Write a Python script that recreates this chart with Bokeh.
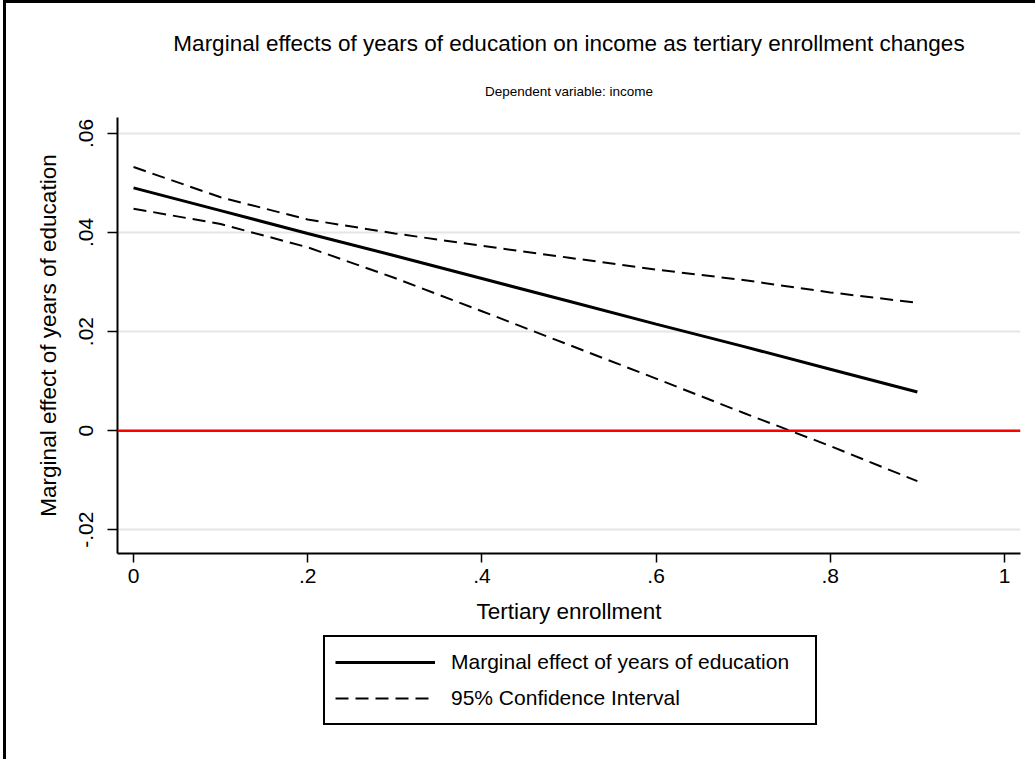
from bokeh.plotting import figure
from bokeh.models import (Span, Legend, LegendItem, FixedTicker, Title)
from bokeh.layouts import column
from bokeh.embed import file_html
from bokeh.resources import INLINE

# ---- data ----
enrollment = [0.0, 0.1, 0.2, 0.3, 0.4, 0.5, 0.6, 0.7, 0.8, 0.9]
marginal_effect = [0.0490, 0.0444, 0.0398, 0.0353, 0.0307, 0.0261, 0.0215, 0.0170, 0.0124, 0.0078]
ci_upper = [0.0532, 0.0471, 0.0426, 0.0398, 0.0373, 0.0349, 0.0325, 0.0304, 0.0279, 0.0258]
ci_lower = [0.0448, 0.0417, 0.0370, 0.0308, 0.0241, 0.0173, 0.0105, 0.0036, -0.0031, -0.0102]

x_ticks = [0, 0.2, 0.4, 0.6, 0.8, 1.0]
x_tick_labels = ["0", ".2", ".4", ".6", ".8", "1"]
y_ticks = [-0.02, 0.0, 0.02, 0.04, 0.06]
y_tick_labels = ["-.02", "0", ".02", ".04", ".06"]

title_text = "Marginal effects of years of education on income as tertiary enrollment changes"
subtitle_text = "Dependent variable: income"
x_label = "Tertiary enrollment"
y_label = "Marginal effect of years of education"
legend_labels = ["Marginal effect of years of education", "95% Confidence Interval"]

FONT = "Liberation Sans"
DASH = "13 7"

p = figure(frame_width=903, frame_height=436, output_backend="svg", toolbar_location=None,
           x_range=(-0.0184, 1.0184), y_range=(-0.0248, 0.0632),
           min_border_left=111, min_border_right=15, min_border_top=114,
           min_border_bottom=82)

p.background_fill_color = "white"
p.border_fill_color = "white"
p.outline_line_color = None

# titles
sub = Title(text=subtitle_text, align="center", text_font=FONT, text_font_size="13.5px",
            text_font_style="normal", text_color="black", standoff=37)
main = Title(text=title_text, align="center", text_font=FONT, text_font_size="22.5px",
             text_font_style="normal", text_color="black", standoff=16)
p.add_layout(sub, "above")
p.add_layout(main, "above")

# axes
p.xaxis.ticker = FixedTicker(ticks=x_ticks)
p.xaxis.major_label_overrides = {t: l for t, l in zip(x_ticks, x_tick_labels)}
p.yaxis.ticker = FixedTicker(ticks=y_ticks)
p.yaxis.major_label_overrides = {t: l for t, l in zip(y_ticks, y_tick_labels)}
p.yaxis.major_label_orientation = "vertical"

for ax in (p.xaxis, p.yaxis):
    ax.axis_line_color = "black"
    ax.axis_line_width = 2
    ax.major_tick_line_color = "black"
    ax.major_tick_line_width = 1.5
    ax.major_tick_in = 0
    ax.minor_tick_line_color = None
    ax.major_label_text_font = FONT
    ax.major_label_text_font_size = "21px"
    ax.major_label_text_color = "black"
    ax.axis_label_text_font = FONT
    ax.axis_label_text_font_size = "22.5px"
    ax.axis_label_text_font_style = "normal"
    ax.axis_label_text_color = "black"

p.xaxis.major_tick_out = 9
p.yaxis.major_tick_out = 10
p.xaxis.major_label_standoff = 6
p.yaxis.major_label_standoff = 14
p.xaxis.axis_label = x_label
p.yaxis.axis_label = y_label
p.xaxis.axis_label_standoff = 13
p.yaxis.axis_label_standoff = 16

p.xgrid.grid_line_color = None
p.ygrid.grid_line_color = "#e6e6e6"
p.ygrid.grid_line_width = 2

# zero reference line
p.add_layout(Span(location=0, dimension="width", line_color="#ff0000", line_width=2.5))

# data lines
p.line(enrollment, marginal_effect, line_color="black", line_width=3)
p.line(enrollment, ci_upper, line_color="black", line_width=2, line_dash=DASH)
p.line(enrollment, ci_lower, line_color="black", line_width=2, line_dash=DASH)

# ---- legend strip below the chart (same series, out of its view) ----
lg = figure(frame_width=1029, frame_height=124, output_backend="svg", toolbar_location=None,
            x_range=(10, 11), y_range=(10, 11), x_axis_location=None, y_axis_location=None,
            min_border=0)
lg.min_border_left = 0
lg.min_border_right = 0
lg.min_border_top = 0
lg.min_border_bottom = 0
lg.grid.grid_line_color = None
lg.outline_line_color = None
lg.background_fill_color = "white"
lg.border_fill_color = "white"
l_me = lg.line(enrollment, marginal_effect, line_color="black", line_width=3)
l_ci = lg.line(enrollment, ci_upper, line_color="black", line_width=2, line_dash=DASH)

legend = Legend(items=[LegendItem(label=legend_labels[0], renderers=[l_me]),
                       LegendItem(label=legend_labels[1], renderers=[l_ci])],
                location=(317, 34), orientation="vertical")
legend.label_text_font = FONT
legend.label_text_font_size = "21px"
legend.label_text_color = "black"
legend.glyph_width = 100
legend.glyph_height = 30
legend.label_height = 30
legend.label_width = 354
legend.label_standoff = 16
legend.spacing = 6
legend.padding = 10
legend.margin = 0
legend.border_line_color = "black"
legend.border_line_width = 2
legend.border_line_alpha = 1
legend.background_fill_color = "white"
legend.background_fill_alpha = 1
lg.add_layout(legend, "center")

page = column(p, lg, spacing=0)
page.styles = {"border-left": "3px solid black", "border-top": "3px solid black",
               "margin-left": "3px"}

open("out.html", "w").write(file_html(page, INLINE))
